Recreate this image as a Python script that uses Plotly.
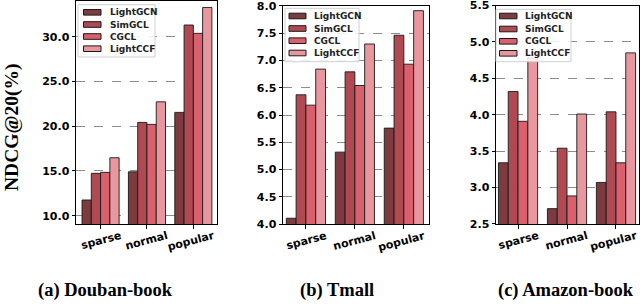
import plotly.graph_objects as go

W, H = 640, 307

groups = ["sparse", "normal", "popular"]
methods = ["LightGCN", "SimGCL", "CGCL", "LightCCF"]
colors = ["#7e3b3f", "#b04a52", "#d9606c", "#e8979f"]

douban = {
    "LightGCN": [11.75, 14.9, 21.54],
    "SimGCL": [14.73, 20.42, 31.3],
    "CGCL": [14.84, 20.2, 30.37],
    "LightCCF": [16.47, 22.72, 33.26],
}
tmall = {
    "LightGCN": [4.11, 5.32, 5.76],
    "SimGCL": [6.37, 6.79, 7.46],
    "CGCL": [6.18, 6.54, 6.93],
    "LightCCF": [6.84, 7.30, 7.91],
}
amazon = {
    "LightGCN": [3.34, 2.71, 3.07],
    "SimGCL": [4.32, 3.54, 4.04],
    "CGCL": [3.91, 2.885, 3.34],
    "LightCCF": [4.78, 4.01, 4.85],
}

captions = ["(a) Douban-book", "(b) Tmall", "(c) Amazon-book"]
y_title = "NDCG@20(%)"

yticks_a = [10.0, 15.0, 20.0, 25.0, 30.0]
yticks_b = [4.0, 4.5, 5.0, 5.5, 6.0, 6.5, 7.0, 7.5, 8.0]
yticks_c = [2.5, 3.0, 3.5, 4.0, 4.5, 5.0, 5.5]


def px(x):
    return x / W


def py(y):
    return 1 - y / H


panels = [
    dict(data=douban, ticks=yticks_a, xdom=[px(76), px(217)], xr=[-0.53, 2.51],
         ydom=[py(224), py(0.5)], yr=[9.07, 34.04],
         leg=dict(box=[78, 4.7, 155, 57], rows=[12.3, 24.5, 36.5, 48.7], patch=[83.5, 101], tx=108),
         cap_x=105),
    dict(data=tmall, ticks=yticks_b, xdom=[px(283), px(429.3)], xr=[-0.468, 2.52],
         ydom=[py(224.3), py(5.7)], yr=[3.999, 8.001],
         leg=dict(box=[285, 8.3, 359, 61.7], rows=[16, 28.5, 40.7, 53], patch=[289, 306], tx=312),
         cap_x=337),
    dict(data=amazon, ticks=yticks_c, xdom=[px(496), px(639)], xr=[-0.45, 2.47],
         ydom=[py(224), py(5.5)], yr=[2.499, 5.501],
         leg=dict(box=[496, 9.3, 571, 61.7], rows=[16, 29, 41.3, 53.3], patch=[499.5, 517], tx=523),
         cap_x=566),
]

fig = go.Figure()
shapes = []
annotations = []
layout_axes = {}

for i, p in enumerate(panels):
    n = "" if i == 0 else str(i + 1)
    xa, ya = "x" + n, "y" + n
    for m, c in zip(methods, colors):
        fig.add_trace(go.Bar(
            x=[0, 1, 2], y=p["data"][m], name=m, xaxis=xa, yaxis=ya,
            marker=dict(color=c, line=dict(color="#1a1a1a", width=0.9)),
            showlegend=False, width=0.2,
        ))
    layout_axes["xaxis" + n] = dict(
        domain=p["xdom"], range=p["xr"], anchor=ya, automargin=False,
        tickmode="array", tickvals=[0, 1, 2], ticktext=groups, tickangle=-15,
        ticklabelshift=20, ticklabelstandoff=-3, ticklabeloverflow="allow",
        tickfont=dict(family="DejaVu Sans", size=11, color="black", weight="bold"),
        showline=True, mirror=True, linecolor="black", linewidth=1,
        ticks="outside", ticklen=3.5, tickwidth=1, tickcolor="black",
        showgrid=False, zeroline=False,
    )
    layout_axes["yaxis" + n] = dict(
        domain=p["ydom"], range=p["yr"], anchor=xa, automargin=False,
        tickmode="array", tickvals=p["ticks"], ticktext=["%.1f" % t for t in p["ticks"]],
        ticklabeloverflow="allow",
        tickfont=dict(family="DejaVu Sans", size=11, color="black", weight="bold"),
        showline=True, mirror=True, linecolor="black", linewidth=1,
        ticks="outside", ticklen=3.5, tickwidth=1, tickcolor="black",
        showgrid=True, gridcolor="#8c8c8c", gridwidth=0.9, griddash="dash",
        zeroline=False,
    )
    # legend
    lg = p["leg"]
    bx0, by0, bx1, by1 = lg["box"]
    shapes.append(dict(type="rect", xref="paper", yref="paper",
                       x0=px(bx0), x1=px(bx1), y0=py(by1), y1=py(by0),
                       fillcolor="rgba(255,255,255,0.85)", line=dict(color="#d0d0d0", width=1),
                       layer="above"))
    for m, c, ry in zip(methods, colors, lg["rows"]):
        shapes.append(dict(type="rect", xref="paper", yref="paper",
                           x0=px(lg["patch"][0]), x1=px(lg["patch"][1]),
                           y0=py(ry + 2.8), y1=py(ry - 2.8),
                           fillcolor=c, line=dict(color="#1a1a1a", width=1), layer="above"))
        annotations.append(dict(xref="paper", yref="paper", x=px(lg["tx"]), y=py(ry),
                                xanchor="left", yanchor="middle", showarrow=False, text=m,
                                font=dict(family="DejaVu Sans", size=9, color="#222", weight="bold")))
    annotations.append(dict(xref="paper", yref="paper", x=px(p["cap_x"]), y=py(290),
                            xanchor="center", yanchor="middle", showarrow=False, text=captions[i],
                            font=dict(family="Liberation Serif", size=18.5, color="black", weight="bold")))

annotations.append(dict(xref="paper", yref="paper", x=px(12), y=py(127),
                        xanchor="center", yanchor="middle", showarrow=False, text=y_title,
                        textangle=-90,
                        font=dict(family="Liberation Serif", size=19.5, color="black", weight="bold")))

fig.update_layout(
    width=W, height=H, margin=dict(l=0, r=0, t=0, b=0),
    paper_bgcolor="white", plot_bgcolor="white",
    barmode="group", bargap=0.2, bargroupgap=0, hovermode=False,
    shapes=shapes, annotations=annotations, showlegend=False,
    **layout_axes,
)

fig.write_html("out.html", config={"displayModeBar": False},
               post_script="document.body.style.margin='0';")
